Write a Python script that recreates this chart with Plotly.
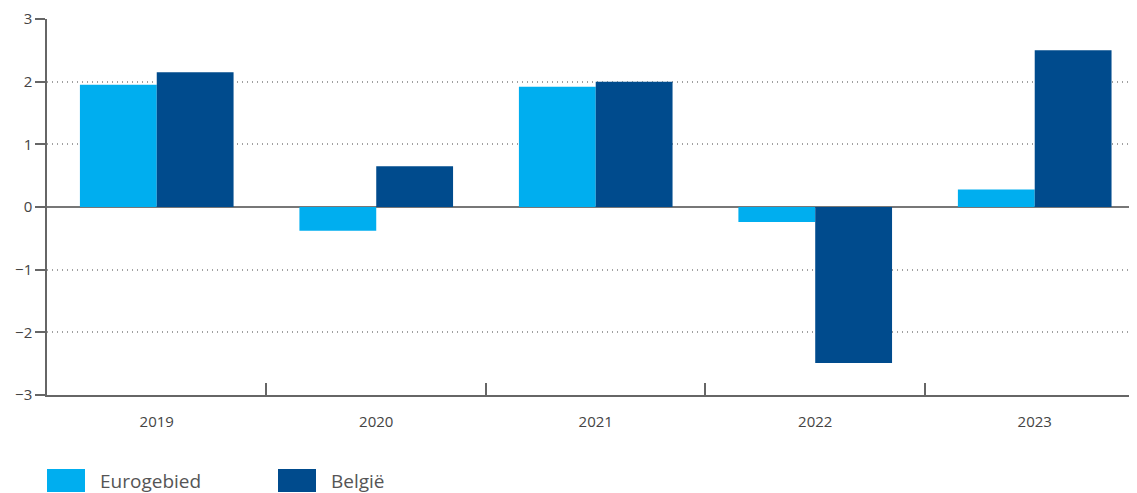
import plotly.graph_objects as go

years = ["2019", "2020", "2021", "2022", "2023"]
series_names = ["Eurogebied", "België"]
eurogebied = [1.95, -0.38, 1.92, -0.24, 0.28]
belgie = [2.15, 0.65, 2.00, -2.49, 2.50]
colors = ["#00AEEF", "#004B8D"]
y_ticks = [-3, -2, -1, 0, 1, 2, 3]

OFF = 8  # default page body margin
W, H = 1137 - OFF, 493 - OFF
ML, MR, MT, MB = 47 - OFF, 0, 19 - OFF, 98
font_family = "Open Sans, Noto Sans, sans-serif"

fig = go.Figure()
for name, vals, col in zip(series_names, [eurogebied, belgie], colors):
    fig.add_trace(go.Bar(x=years, y=vals, name=name, marker=dict(color=col, line=dict(width=0)),
                         showlegend=False))

fig.update_layout(
    width=W, height=H,
    margin=dict(l=ML, r=MR, t=MT, b=MB),
    paper_bgcolor="white", plot_bgcolor="white",
    barmode="group", bargap=0.3, bargroupgap=0,
    font=dict(family=font_family, color="#444"),
)

fig.update_xaxes(
    type="category",
    range=[-0.5, 4.466],
    showline=True, linecolor="#666", linewidth=1.5,
    ticks="inside", tickson="boundaries", ticklen=12, tickcolor="#666", tickwidth=1.5,
    showgrid=False, zeroline=False,
    tickfont=dict(size=15, color="#444"),
    ticklabelstandoff=12,
)
fig.update_yaxes(
    range=[-3, 3],
    tickvals=y_ticks,
    showline=True, linecolor="#666", linewidth=1.5,
    ticks="outside", ticklen=10, tickcolor="#666", tickwidth=1.5,
    showgrid=True, gridcolor="#a0a0a0", griddash="1px,4px", gridwidth=1.5,
    zeroline=True, zerolinecolor="#777", zerolinewidth=1.5,
    tickfont=dict(size=15, color="#444"),
)

# Custom legend (large swatches); coordinates given in final page pixels
plot_w = W - ML - MR
plot_h = H - MT - MB
def px_x(p):
    return (p - OFF - ML) / plot_w
def px_y(p):
    return (H - MB - (p - OFF)) / plot_h

legend_x = [47, 278]
for name, col, lx in zip(series_names, colors, legend_x):
    fig.add_shape(type="rect", xref="paper", yref="paper",
                  x0=px_x(lx), x1=px_x(lx + 38), y0=px_y(492), y1=px_y(469),
                  fillcolor=col, line=dict(width=0))
    fig.add_annotation(xref="paper", yref="paper", x=px_x(lx + 51), y=px_y(481),
                       text=name, showarrow=False, xanchor="left", yanchor="middle",
                       font=dict(size=19, color="#555", family=font_family))

fig.write_html("out.html")
